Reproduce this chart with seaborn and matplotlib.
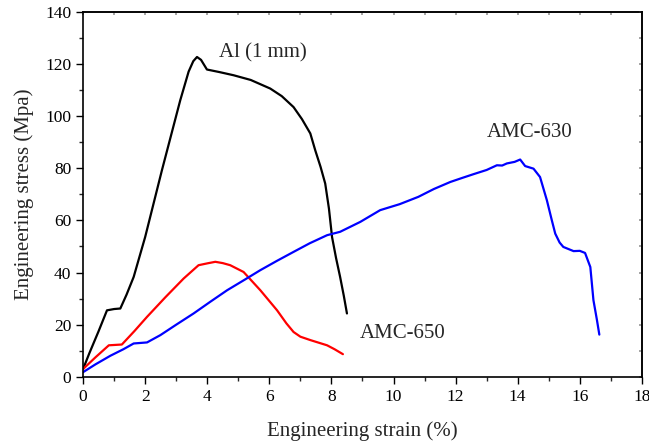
import pandas as pd
import matplotlib.pyplot as plt
import seaborn as sns
from matplotlib.ticker import MultipleLocator

# Al (1 mm)
al_strain = [0.0, 0.2, 0.5, 0.77, 1.0, 1.2, 1.4, 1.63, 2.0, 2.54, 3.13, 3.4, 3.55, 3.67, 3.8, 3.99,
             4.4, 4.85, 5.4, 6.03, 6.4, 6.78, 7.05, 7.32, 7.48, 7.65, 7.8, 7.92, 8.02, 8.15, 8.28, 8.4, 8.5]
al_stress = [3.0, 9.0, 17.5, 25.5, 26.0, 26.2, 31.5, 38.3, 53.6, 79.2, 106.0, 117.0, 121.0, 122.6, 121.5, 117.8,
             116.8, 115.6, 113.8, 110.5, 107.6, 103.4, 98.8, 93.3, 86.8, 80.5, 74.1, 64.5, 53.6, 45.5, 38.3, 31.0, 24.3]

# AMC-650
amc650_strain = [0.0, 0.4, 0.83, 1.25, 1.65, 2.06, 2.65, 3.24, 3.72, 4.0, 4.26, 4.5, 4.74, 5.17, 5.71,
                 6.25, 6.55, 6.78, 7.0, 7.32, 7.86, 8.1, 8.37]
amc650_stress = [3.0, 7.5, 12.1, 12.4, 17.5, 23.0, 30.5, 37.7, 42.8, 43.5, 44.1, 43.6, 42.8, 40.2, 33.2,
                 25.5, 20.5, 17.2, 15.4, 14.1, 12.1, 10.6, 8.7]

# AMC-630
amc630_strain = [0.0, 0.4, 0.88, 1.3, 1.63, 2.06, 2.49, 3.0, 3.56, 4.1, 4.64, 5.2, 5.71, 6.25, 6.78, 7.3,
                 7.86, 8.28, 8.93, 9.57, 10.2, 10.8, 11.3, 11.83, 12.2, 12.58, 13.0, 13.33, 13.5, 13.65,
                 13.9, 14.08, 14.24, 14.51, 14.72, 14.94, 15.1, 15.21, 15.35, 15.47, 15.8, 16.0, 16.17,
                 16.34, 16.44, 16.55, 16.63]
amc630_stress = [1.8, 4.8, 8.1, 10.6, 12.8, 13.2, 16.0, 20.0, 24.3, 28.8, 33.2, 37.2, 40.9, 44.5, 47.9, 51.2,
                 54.3, 55.6, 59.4, 63.9, 66.2, 69.0, 72.0, 74.7, 76.2, 77.7, 79.3, 81.1, 81.0, 81.8,
                 82.4, 83.3, 80.8, 79.8, 76.6, 67.7, 60.0, 54.9, 51.5, 49.8, 48.2, 48.3, 47.5,
                 42.1, 29.4, 22.0, 16.2]

frames = []
for name, xs, ys in [("Al (1 mm)", al_strain, al_stress),
                     ("AMC-650", amc650_strain, amc650_stress),
                     ("AMC-630", amc630_strain, amc630_stress)]:
    frames.append(pd.DataFrame({"strain": xs, "stress": ys, "sample": name}))
df = pd.concat(frames, ignore_index=True)

sns.set_theme(style="ticks")
plt.rcParams['font.family'] = ['Liberation Serif', 'DejaVu Serif']

fig, ax = plt.subplots(figsize=(6.49, 4.46), dpi=100)
fig.subplots_adjust(left=0.128, right=0.989, top=0.974, bottom=0.155)

sns.lineplot(data=df, x="strain", y="stress", hue="sample", sort=False,
             palette={"Al (1 mm)": "black", "AMC-650": "#ff0000", "AMC-630": "#0000ff"},
             linewidth=1.6, legend=False, ax=ax)

ax.set_xlim(0, 18)
ax.set_ylim(0, 140)
ax.xaxis.set_major_locator(MultipleLocator(2))
ax.xaxis.set_minor_locator(MultipleLocator(1))
ax.yaxis.set_major_locator(MultipleLocator(20))
ax.yaxis.set_minor_locator(MultipleLocator(10))
ax.tick_params(axis='both', which='major', direction='out', length=5, width=1, labelsize=12.5, colors='black')
ax.tick_params(axis='both', which='minor', direction='out', length=3, width=1)
for s in ax.spines.values():
    s.set_color('black')
    s.set_linewidth(1.2)

# mirrored faint ticks on top and right
secx = ax.secondary_xaxis('top')
secx.xaxis.set_major_locator(MultipleLocator(1))
secx.tick_params(direction='in', length=2, color='#999999', labeltop=False)
secy = ax.secondary_yaxis('right')
secy.yaxis.set_major_locator(MultipleLocator(10))
secy.tick_params(direction='in', length=2, color='#999999', labelright=False)

ax.set_xlabel("Engineering strain (%)", fontsize=15, labelpad=12)
ax.set_ylabel("Engineering stress (Mpa)", fontsize=15, labelpad=8)

ax.text(5.8, 124, "Al (1 mm)", fontsize=15, ha='center', va='center')
ax.text(14.4, 93.5, "AMC-630", fontsize=15, ha='center', va='center')
ax.text(10.3, 16.5, "AMC-650", fontsize=15, ha='center', va='center')

plt.savefig("out.png", dpi=100)
